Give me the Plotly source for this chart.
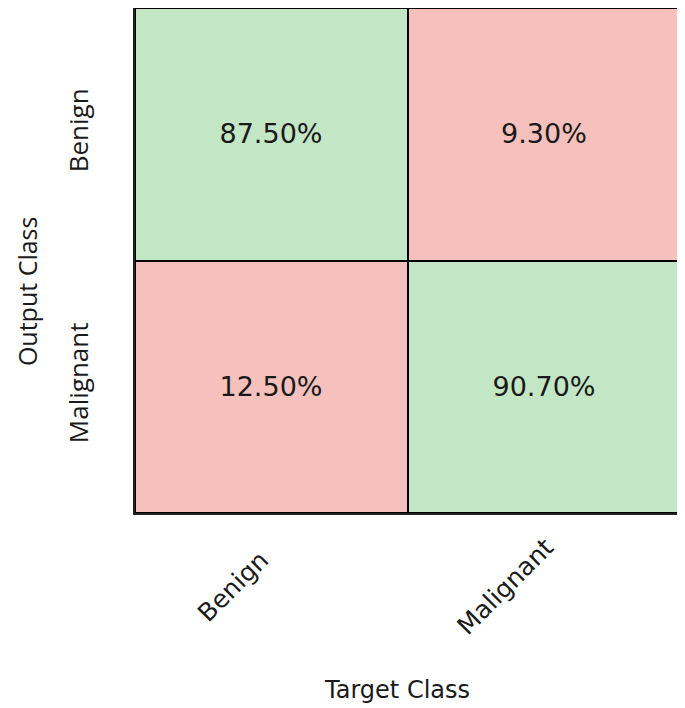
import plotly.graph_objects as go

# confusion matrix values (rows = output class, cols = target class)
classes = ["Benign", "Malignant"]
row_benign = [87.50, 9.30]
row_malignant = [12.50, 90.70]

z = [row_benign, row_malignant]
text = [[f"{v:.2f}%" for v in row] for row in z]

green = "#c3e6c4"
red = "#f6c1bd"

fig = go.Figure(go.Heatmap(
    z=z,
    x=[0, 1],
    y=[0, 1],
    text=text,
    texttemplate="%{text}",
    textfont=dict(family="DejaVu Sans", size=27, color="#1a1a1a"),
    colorscale=[[0, red], [0.5, red], [0.5, green], [1, green]],
    zmin=0, zmax=100,
    xgap=2, ygap=2,
    showscale=False,
    hoverinfo="skip",
))

fig.update_xaxes(
    range=[-0.5, 1.5], automargin=False,
    tickvals=[0, 1], showticklabels=False,
    ticks="", showgrid=False, zeroline=False,
    showline=True, linecolor="#222", linewidth=2, mirror=True,
)
fig.update_yaxes(
    range=[1.5, -0.5], automargin=False,
    tickvals=[0, 1], ticktext=classes, tickangle=-90,
    tickfont=dict(family="Open Sans", size=26, color="#1a1a1a"),
    ticklabelstandoff=35,
    ticks="", showgrid=False, zeroline=False,
    showline=True, linecolor="#222", linewidth=2, mirror=True,
)

# rotated x tick labels, centred below each column
for i, name in enumerate(classes):
    fig.add_annotation(text=name, xref="x", yref="paper", x=i, y=-0.1465,
                       xshift=-38, textangle=-45, showarrow=False,
                       xanchor="center", yanchor="middle",
                       font=dict(family="DejaVu Sans", size=25, color="#1a1a1a"))

# axis titles
fig.add_annotation(text="Target Class", xref="paper", yref="paper",
                   x=0.4807, y=-0.3505, showarrow=False,
                   xanchor="center", yanchor="middle",
                   font=dict(family="DejaVu Sans", size=24, color="#1a1a1a"))
fig.add_annotation(text="Output Class", xref="paper", yref="paper",
                   x=-0.198, y=0.4396, textangle=-90, showarrow=False,
                   xanchor="center", yanchor="middle", borderpad=0,
                   font=dict(family="Open Sans", size=25, color="#1a1a1a"))

fig.update_layout(
    width=677, height=700,
    margin=dict(l=127, r=5, t=0, b=195),
    plot_bgcolor="black", paper_bgcolor="white",
)

fig.write_html("out.html")
